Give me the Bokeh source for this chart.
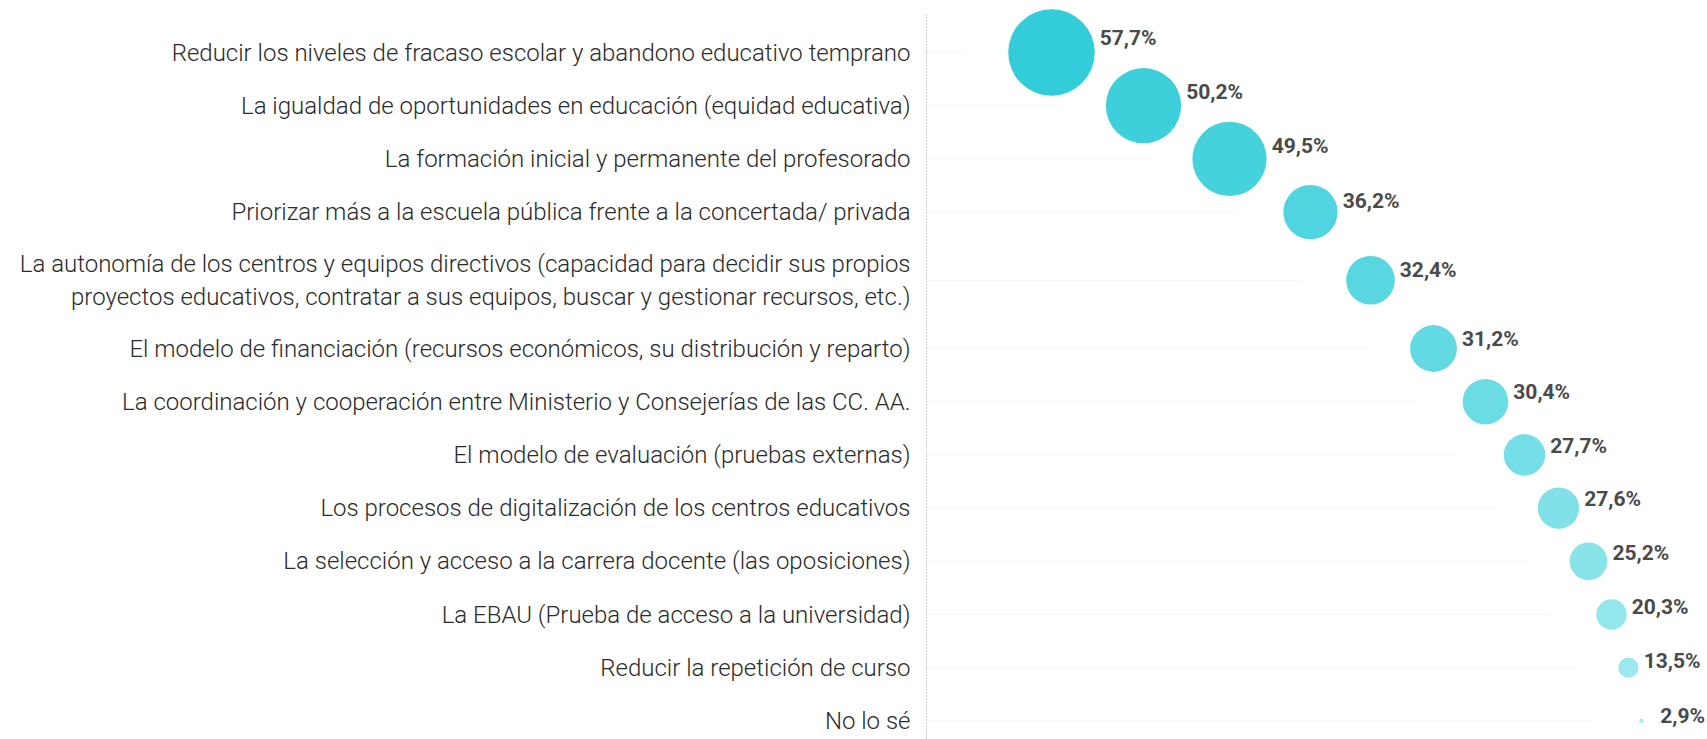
from bokeh.plotting import figure
from bokeh.models import ColumnDataSource, Range1d, FixedTicker
from bokeh.core.properties import value
from bokeh.embed import file_html
from bokeh.resources import INLINE

categorias = [
    "Reducir los niveles de fracaso escolar y abandono educativo temprano",
    "La igualdad de oportunidades en educación (equidad educativa)",
    "La formación inicial y permanente del profesorado",
    "Priorizar más a la escuela pública frente a la concertada/ privada",
    "La autonomía de los centros y equipos directivos (capacidad para decidir sus propios\nproyectos educativos, contratar a sus equipos, buscar y gestionar recursos, etc.)",
    "El modelo de financiación (recursos económicos, su distribución y reparto)",
    "La coordinación y cooperación entre Ministerio y Consejerías de las CC. AA.",
    "El modelo de evaluación (pruebas externas)",
    "Los procesos de digitalización de los centros educativos",
    "La selección y acceso a la carrera docente (las oposiciones)",
    "La EBAU (Prueba de acceso a la universidad)",
    "Reducir la repetición de curso",
    "No lo sé",
]
porcentajes = [57.7, 50.2, 49.5, 36.2, 32.4, 31.2, 30.4, 27.7, 27.6, 25.2, 20.3, 13.5, 2.9]
# horizontal position of each bubble
posicion_x = [125, 217, 303, 384, 444, 507, 559, 598, 632, 662, 685, 702, 715]
etiquetas = [f"{v:.1f}%".replace(".", ",") for v in porcentajes]

# ---- layout helpers (style, not data) ----
n = len(categorias)
row_gap = 53.2
extra = 15.0
lines = [c.count("\n") + 1 for c in categorias]
ypos = [0.0]
for i in range(1, n):
    step = row_gap + (extra if (lines[i] > 1 or lines[i - 1] > 1) else 0.0)
    ypos.append(ypos[-1] + step)

def lerp_color(c1, c2, t):
    a = [int(c1[k:k + 2], 16) for k in (1, 3, 5)]
    b = [int(c2[k:k + 2], 16) for k in (1, 3, 5)]
    return "#" + "".join(f"{round(a[j] + (b[j] - a[j]) * t):02x}" for j in range(3))

colors = [lerp_color("#33cdd9", "#a6ebf0", i / (n - 1)) for i in range(n)]
radius_px = [0.75 * v for v in porcentajes]
sizes = [2 * r for r in radius_px]
x_off = [r + 5 + max(0.0, 16 - 2 * r) for r in radius_px]
y_off = [-(0.25 * r) - 4 for r in radius_px]

W, H = 1707, 739
frame_left = 924
top_pad = 52
bottom_pad = H - top_pad - ypos[-1]
axis_top = -top_pad + 14

src = ColumnDataSource(dict(
    x=posicion_x, y=ypos, size=sizes, color=colors, label=etiquetas,
    xo=x_off, yo=y_off, x0=[0] * n,
    x1=[px - r - 45 for px, r in zip(posicion_x, radius_px)],
))

p = figure(width=W, height=H, output_backend="svg", toolbar_location=None,
           x_range=Range1d(-2, W - frame_left - 2),
           y_range=Range1d(ypos[-1] + bottom_pad, -top_pad),
           min_border_left=frame_left, min_border_right=0, min_border_top=0, min_border_bottom=0)
p.outline_line_color = None
p.background_fill_color = "white"
p.border_fill_color = "white"
p.grid.visible = False
p.xaxis.visible = False

ax = p.yaxis[0]
ax.ticker = FixedTicker(ticks=ypos)
ax.major_label_overrides = {y: c for y, c in zip(ypos, categorias)}
ax.major_tick_line_color = None
ax.minor_tick_line_color = None
ax.axis_line_color = None
ax.major_label_text_font = "Roboto Light"
ax.major_label_text_font_size = "24px"
ax.major_label_text_color = "#2b2b2b"
ax.major_label_standoff = 8

# dotted vertical baseline
p.segment(x0=[0], y0=[axis_top], x1=[0], y1=[ypos[-1] + bottom_pad],
          line_color="#9a9a9a", line_dash="1 2", line_width=1)

# faint dotted guide lines
p.segment(x0="x0", y0="y", x1="x1", y1="y", source=src, line_color="#d6d6d6",
          line_dash="1 3", line_width=1)

p.scatter(x="x", y="y", size="size", fill_color="color", line_color=None, source=src)

p.text(x="x", y="y", text="label", x_offset="xo", y_offset="yo", source=src,
       text_font=value("Roboto"), text_font_style="bold", text_font_size="21px",
       text_color="#4a4a4a", text_baseline="middle", text_align="left")

open("out.html", "w").write(file_html(p, INLINE))
